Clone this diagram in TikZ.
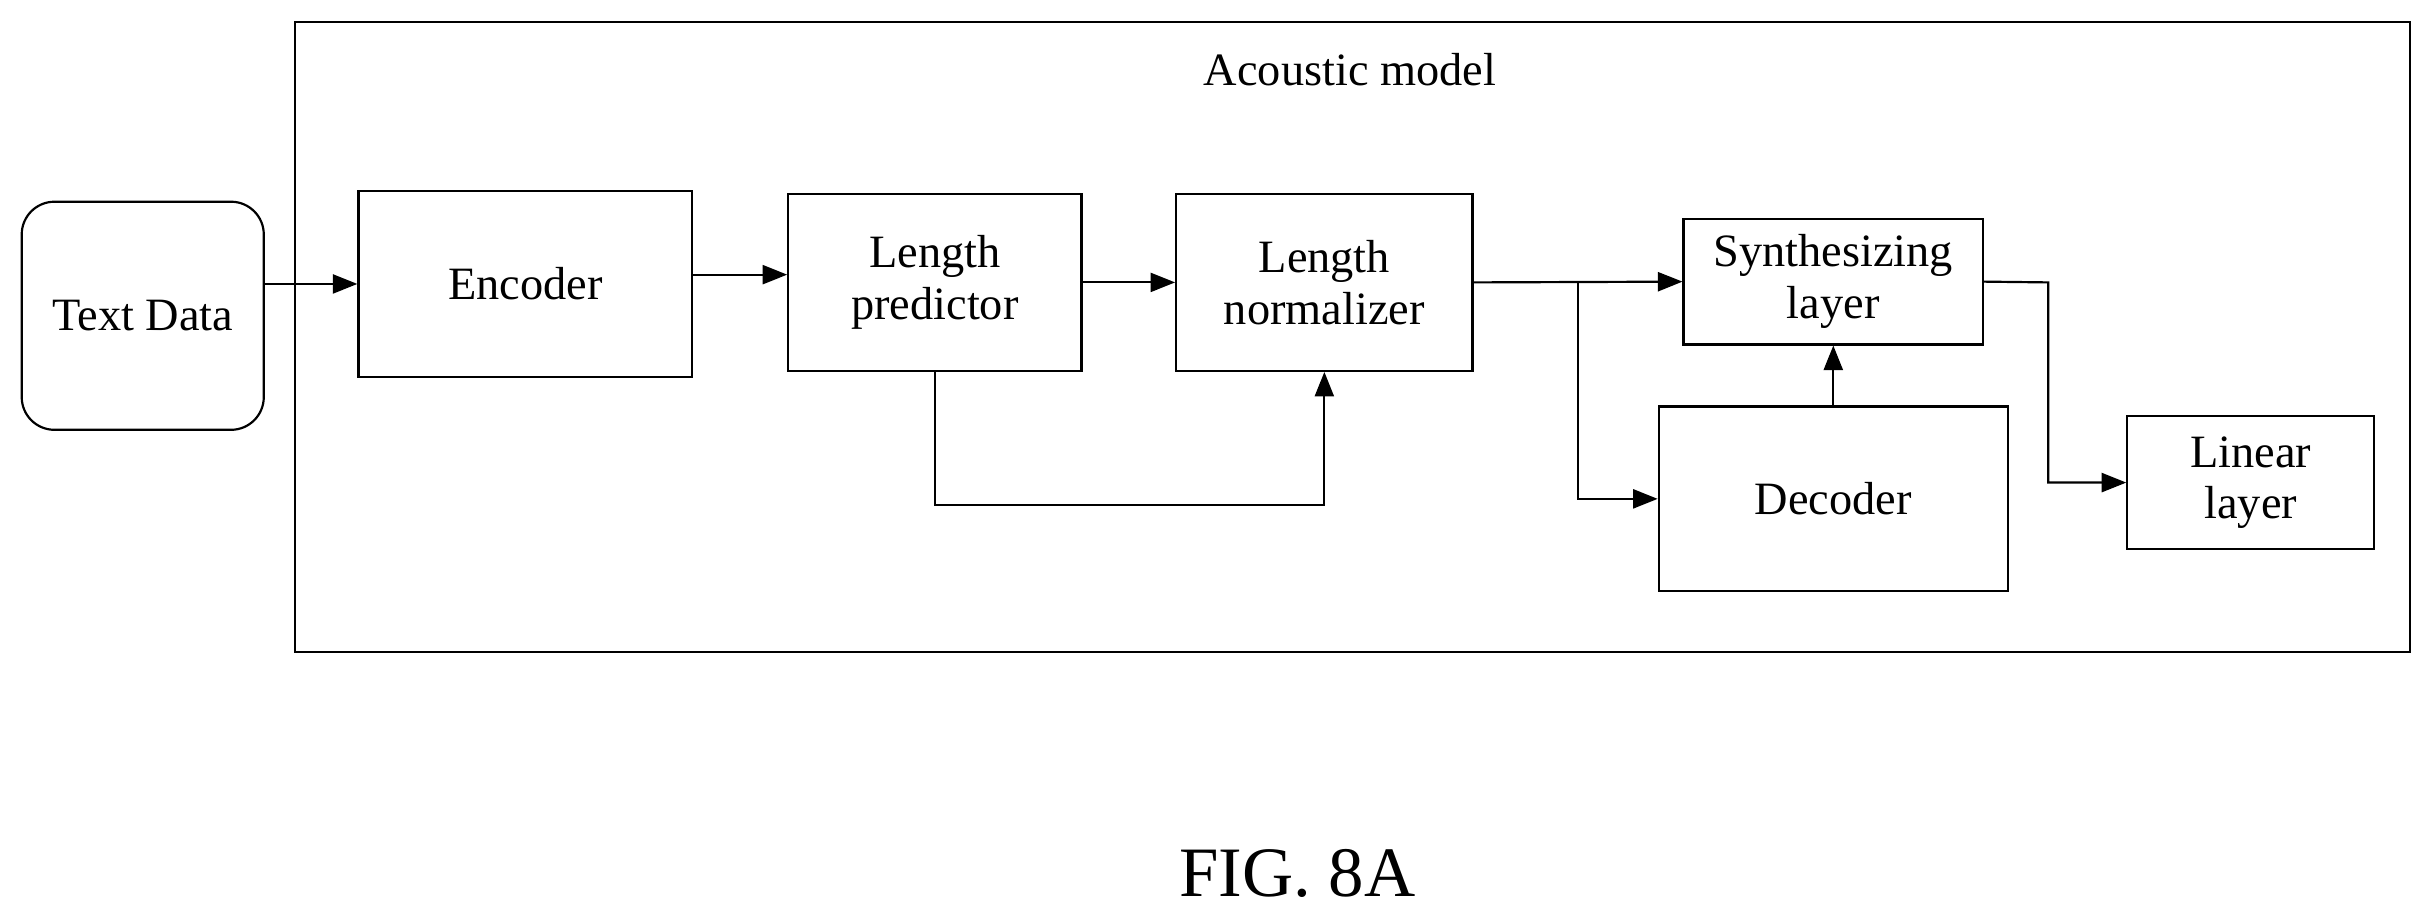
\documentclass[tikz,border=0pt]{standalone}
\usepackage{fontspec}
\setmainfont{Liberation Serif}
\usetikzlibrary{arrows.meta}

\begin{document}
\begin{tikzpicture}[x=0.02cm,y=-0.02cm,>={Triangle[length=9pt,width=7pt]},
                    thick,font=\fontsize{17}{19}\selectfont]

  \tikzset{block/.style={draw,align=center,inner sep=0pt}}

  \useasboundingbox (0,0) rectangle (1568,592);

  \node[draw,minimum width=1363*0.02cm,minimum height=406*0.02cm,inner sep=0pt]
        (model) at (871.5,217) {};
  \node (title) at (870,45) {Acoustic model};

  \node[block,rounded corners=12pt,minimum width=156*0.02cm,minimum height=147*0.02cm]
        (text) at (92,203.5) {Text Data};
  \node[block,minimum width=215*0.02cm,minimum height=120*0.02cm] (enc) at (338.5,183) {Encoder};
  \node[block,minimum width=189*0.02cm,minimum height=114*0.02cm] (pred) at (602.5,182) {Length\\predictor};
  \node[block,minimum width=191*0.02cm,minimum height=114*0.02cm] (norm) at (853.5,182) {Length\\normalizer};
  \node[block,minimum width=193*0.02cm,minimum height=81*0.02cm] (syn) at (1181.5,181.5) {Synthesizing\\layer};
  \node[block,minimum width=225*0.02cm,minimum height=119*0.02cm] (dec) at (1181.5,321.5) {Decoder};
  \node[block,minimum width=159*0.02cm,minimum height=86*0.02cm] (lin) at (1450.5,311) {Linear\\layer};

  \node[font=\fontsize{26}{28}\selectfont] (fig) at (836,563) {FIG. 8A};

  \coordinate (split) at (1017,182);
  \coordinate (turn) at (1320,182);

  \draw[->] (text.east |- 0,183) -- (enc.west |- 0,183);
  \draw[->] (enc.east |- 0,177) -- (pred.west |- 0,177);
  \draw[->] (pred.east) -- (norm.west);
  \draw[->] (norm.east) -- (syn.west);
  \draw[->] (split) |- (dec.west);
  \draw[->] (dec.north) -- (syn.south);
  \draw[->] (syn.east) -- (turn) |- (lin.west);
  \draw[->] (pred.south) -- ++(0,86) -| (norm.south);
\end{tikzpicture}
\end{document}
